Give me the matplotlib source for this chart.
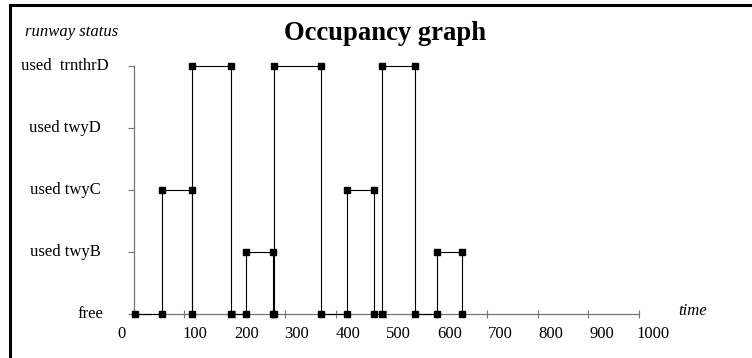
import numpy as np
import matplotlib
matplotlib.use('Agg')
import matplotlib.pyplot as plt
from matplotlib.lines import Line2D
from matplotlib.transforms import ScaledTranslation, blended_transform_factory

plt.rcParams['font.family'] = ['Liberation Serif', 'DejaVu Serif']

# runway occupancy steps (time, status level)
times = [3, 57, 57, 115, 115, 115, 193, 193, 222, 222, 275, 275, 278, 278,
         371, 371, 422, 422, 476, 476, 492, 492, 557, 557, 601, 601, 649, 649]
levels = [0, 0, 2, 2, 0, 4, 4, 0, 0, 1, 1, 0, 0, 4,
          4, 0, 0, 2, 2, 0, 0, 4, 4, 0, 0, 1, 1, 0]

status_labels = ['free', 'used twyB', 'used twyC', 'used twyD', 'used  trnthrD']
x_ticks = [0, 100, 200, 300, 400, 500, 600, 700, 800, 900, 1000]

W, H = 752, 358
fig = plt.figure(figsize=(W / 100, H / 100), dpi=100)
ax = fig.add_axes([133.5 / W, (H - 314) / H, (639 - 133.5) / W, (314 - 66) / H])

ax.plot(times, levels, color='black', lw=0.8, marker='s', markersize=4.2,
        clip_on=False, zorder=3)

ax.set_xlim(0, 1000)
ax.set_ylim(0, 4)
for side in ['top', 'right']:
    ax.spines[side].set_visible(False)
for side in ['left', 'bottom']:
    ax.spines[side].set_color('#777777')
    ax.spines[side].set_linewidth(0.9)

ax.set_xticks(x_ticks)
ax.set_xticklabels([])
ax.tick_params(axis='x', direction='inout', length=6, width=0.8, color='#777777')
ax.set_yticks(range(len(status_labels)))
ax.set_yticklabels([])
ax.tick_params(axis='y', direction='out', length=4, width=0.8, color='#777777')

# x tick labels (offset from ticks, as in the original)
for t in x_ticks:
    dx = -12 if t == 0 else 11 + 3 * t / 1000
    tr = ax.transData + ScaledTranslation(dx / 100, -20.5 / 100, fig.dpi_scale_trans)
    ax.text(t, 0, str(t), transform=tr, ha='center', va='center', fontsize=12)

# y tick labels
ytr = blended_transform_factory(fig.transFigure, ax.transData)
for i, lab in enumerate(status_labels):
    if lab == 'free':
        ax.text(103 / W, i, lab, transform=ytr, ha='right', va='center', fontsize=12)
    else:
        ax.text(65 / W, i, lab, transform=ytr, ha='center', va='center', fontsize=12)

fig.text(385 / W, 1 - 33 / H, 'Occupancy graph', ha='center', va='center',
         fontsize=19.2, fontweight='bold')
fig.text(25 / W, 1 - 32 / H, 'runway status', ha='left', va='center',
         fontsize=12, style='italic')
fig.text(693 / W, 1 - 311 / H, 'time', ha='center', va='center',
         fontsize=12, style='italic')

# frame lines (top and left)
fig.add_artist(Line2D([9.5 / W, 1], [1 - 5 / H, 1 - 5 / H], color='black', lw=2.2,
                      transform=fig.transFigure))
fig.add_artist(Line2D([9.5 / W, 9.5 / W], [0, 1 - 5 / H], color='black', lw=2.2,
                      transform=fig.transFigure))

fig.savefig('out.png', dpi=100)
